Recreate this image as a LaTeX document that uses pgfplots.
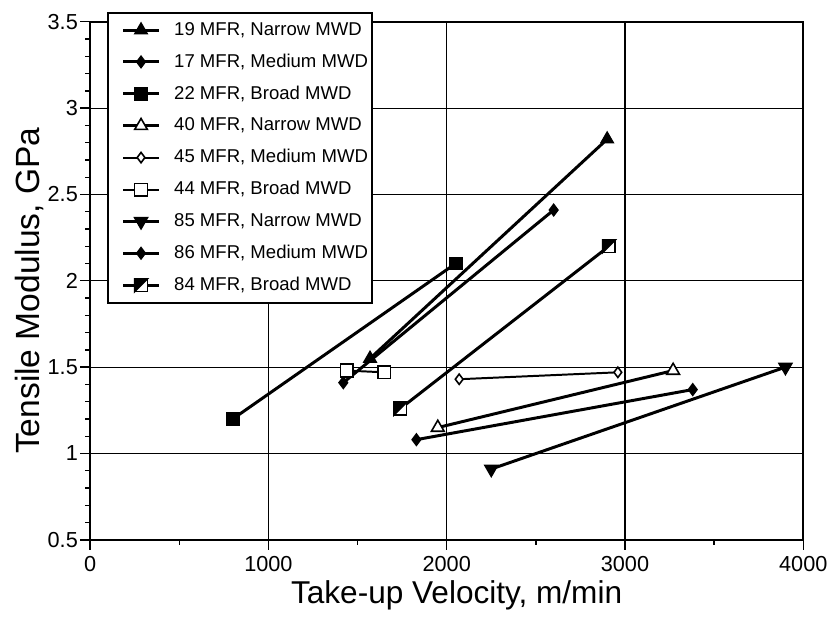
\documentclass[border=0pt]{standalone}
\usepackage{fontspec}
\setmainfont{Liberation Sans}
\usepackage{pgfplots}
\pgfplotsset{compat=1.18}

% square, upper-left half filled
\pgfdeclareplotmark{halfsquare}{%
  \pgfpathrectangle{\pgfqpoint{-\pgfplotmarksize}{-\pgfplotmarksize}}{\pgfqpoint{2\pgfplotmarksize}{2\pgfplotmarksize}}%
  \pgfsetfillcolor{white}\pgfusepathqfillstroke
  \pgfpathmoveto{\pgfqpoint{-\pgfplotmarksize}{-\pgfplotmarksize}}%
  \pgfpathlineto{\pgfqpoint{-\pgfplotmarksize}{\pgfplotmarksize}}%
  \pgfpathlineto{\pgfqpoint{\pgfplotmarksize}{\pgfplotmarksize}}%
  \pgfpathclose
  \pgfsetfillcolor{black}\pgfusepathqfillstroke
}

\begin{document}
\begin{tikzpicture}
\begin{axis}[
  scale only axis, width=360bp, height=261.5bp,
  xmin=0, xmax=4000, ymin=0.5, ymax=3.5,
  xtick={0,1000,...,4000}, ytick={0.5,1,...,3.5},
  minor x tick num=1, minor y tick num=4,
  tick align=outside, tick pos=left,
  major tick length=5bp, minor tick length=2.5bp,
  every tick/.style={black, line width=0.7bp},
  grid=major, major grid style={black, line width=0.6bp},
  axis line style={line width=1bp},
  /pgf/number format/assume math mode=true,
  /pgf/number format/1000 sep={},
  tick label style={font=\fontsize{11}{12}\selectfont},
  yticklabel style={inner xsep=1bp},
  every axis x label/.style={at={(axis description cs:0.5,0)}, anchor=center, xshift=5bp, yshift=-28bp},
  every axis y label/.style={at={(axis description cs:0,0.5)}, rotate=90, anchor=center, xshift=-5bp, yshift=30.5bp},
  xlabel={Take-up Velocity, m/min},
  ylabel={Tensile Modulus, GPa},
  xlabel style={font=\fontsize{16}{18}\selectfont},
  ylabel style={font=\fontsize{17}{19}\selectfont},
  legend cell align=left,
  legend image code/.code={\path (0bp,0bp); \draw[mark repeat=2,mark phase=2] plot coordinates {(5bp,0bp)(14bp,0bp)(23bp,0bp)};},
  legend style={at={(0.0236,1.019)}, anchor=north west, draw=black, line width=0.9bp, fill=white,
    font=\fontsize{9.4}{11}\selectfont, inner xsep=2bp, inner ysep=4.7bp, row sep=7.9bp,
    nodes={inner sep=0pt},
    /tikz/every odd column/.append style={column sep=7bp}},
]
\addplot[black, line width=1.5bp, mark=triangle*, mark size=3.7bp, mark options={fill=black, line width=0.6bp}]
  coordinates {(1570,1.55) (2900,2.82)};
\addlegendentry{19 MFR, Narrow MWD}
\addplot[black, line width=1.5bp, mark=diamond*, mark size=3bp, mark options={fill=black, line width=0.6bp}]
  coordinates {(1420,1.41) (2600,2.41)};
\addlegendentry{17 MFR, Medium MWD}
\addplot[black, line width=1.5bp, mark=square*, mark size=3.2bp, mark options={fill=black, line width=0.6bp}]
  coordinates {(800,1.20) (2050,2.10)};
\addlegendentry{22 MFR, Broad MWD}
\addplot[black, line width=1.5bp, mark=triangle*, mark size=3.7bp, mark options={fill=white, line width=0.8bp}]
  coordinates {(1950,1.15) (3270,1.48)};
\addlegendentry{40 MFR, Narrow MWD}
\addplot[black, line width=1bp, mark=diamond*, mark size=2.6bp, mark options={fill=white, line width=0.8bp}]
  coordinates {(2070,1.43) (2960,1.47)};
\addlegendentry{45 MFR, Medium MWD}
\addplot[black, line width=1bp, mark=square*, mark size=3.2bp, mark options={fill=white, line width=0.8bp}]
  coordinates {(1440,1.48) (1650,1.47)};
\addlegendentry{44 MFR, Broad MWD}
\addplot[black, line width=1.5bp, mark=triangle*, mark size=3.9bp, mark options={fill=black, rotate=180, line width=0.6bp}]
  coordinates {(2250,0.91) (3900,1.50)};
\addlegendentry{85 MFR, Narrow MWD}
\addplot[black, line width=1.5bp, mark=diamond*, mark size=3bp, mark options={fill=black, line width=0.6bp}]
  coordinates {(1830,1.08) (3380,1.37)};
\addlegendentry{86 MFR, Medium MWD}
\addplot[black, line width=1.5bp, mark=halfsquare, mark size=3.2bp, mark options={line width=0.8bp}]
  coordinates {(1740,1.26) (2910,2.20)};
\addlegendentry{84 MFR, Broad MWD}
\end{axis}
\path (current axis.south west) ++(-45.5bp,-33.5bp) rectangle ++(417bp,306bp);
\end{tikzpicture}
\end{document}
